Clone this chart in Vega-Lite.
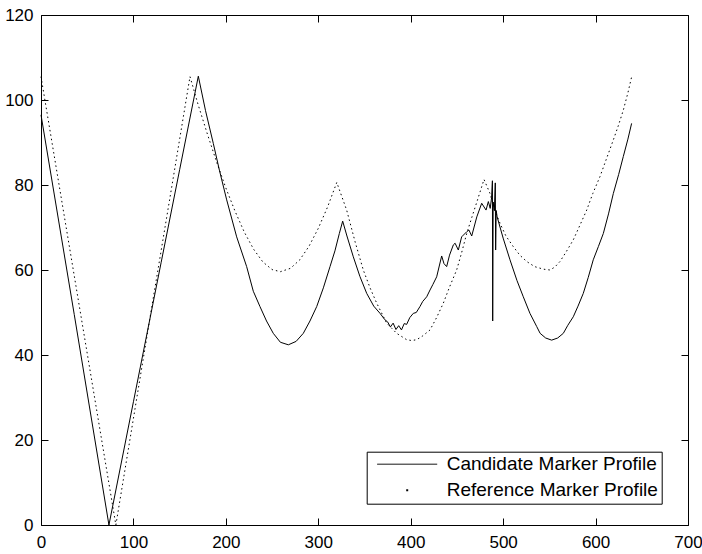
{
  "$schema": "https://vega.github.io/schema/vega-lite/v6.json",
  "width": 647,
  "height": 510,
  "autosize": {"type": "none"},
  "padding": {"left": 41, "top": 15, "right": 14, "bottom": 29},
  "background": "white",
  "config": {
    "view": {"stroke": null},
    "axis": {
      "domainColor": "black", "domainWidth": 1, "tickColor": "black", "tickWidth": 1, "tickSize": -7,
      "labelColor": "black", "labelFont": "Liberation Sans", "labelFontSize": 17,
      "grid": false, "title": null, "labelFlush": false, "labelOverlap": false
    }
  },
  "datasets": {
    "cand": [
      {"x":0,"y":96.5},{"x":36,"y":49.5},{"x":73.5,"y":0},{"x":100,"y":29},{"x":130,"y":61.8},{"x":150,"y":83.6},{"x":170.2,"y":105.6},
      {"x":178,"y":97.5},{"x":186.4,"y":89.8},{"x":193,"y":83.5},{"x":200.9,"y":76.5},{"x":211.7,"y":67.8},{"x":222.5,"y":60.8},{"x":229.7,"y":55},{"x":236.9,"y":51.4},{"x":244,"y":48},{"x":251.3,"y":45.1},
      {"x":259,"y":43},{"x":267.6,"y":42.4},{"x":276,"y":43.2},{"x":283.8,"y":45.1},{"x":291,"y":48},{"x":298.3,"y":51.4},{"x":305.5,"y":55.8},{"x":312.7,"y":60.8},{"x":318,"y":64.5},{"x":322.8,"y":68.6},
      {"x":326.4,"y":71.5},{"x":331,"y":68},{"x":337.9,"y":63.1},{"x":345,"y":58.5},{"x":352.4,"y":54.5},{"x":360,"y":51.5},{"x":366.8,"y":49.8},{"x":372,"y":48.3},{"x":375,"y":47.8},{"x":378,"y":46.6},
      {"x":381,"y":47.5},{"x":384,"y":46},{"x":387,"y":46.9},{"x":390,"y":45.9},{"x":393,"y":47.4},{"x":395.6,"y":47.2},{"x":399,"y":48.8},{"x":402.8,"y":49.8},{"x":406,"y":50},{"x":410,"y":51.4},
      {"x":413,"y":52.6},{"x":417.3,"y":53.7},{"x":420.9,"y":55.3},{"x":424,"y":56.6},{"x":428.1,"y":58.4},{"x":433.5,"y":63.3},{"x":436,"y":61.5},{"x":438.9,"y":60.8},{"x":442,"y":63.5},{"x":446.1,"y":65.9},
      {"x":448,"y":66.3},{"x":451.5,"y":64.7},{"x":455.1,"y":67.8},{"x":460.6,"y":69},{"x":463,"y":69.4},{"x":466,"y":68},{"x":471.5,"y":72.5},{"x":476.8,"y":75.7},{"x":481.5,"y":74.1},{"x":484,"y":76.1},
      {"x":486,"y":74.5},{"x":487.5,"y":77},{"x":488.4,"y":81},{"x":488.7,"y":48},{"x":489.2,"y":76},{"x":490.5,"y":74},{"x":491.5,"y":80.5},{"x":491.9,"y":64.7},{"x":492.5,"y":74},{"x":493.5,"y":72.5},
      {"x":500,"y":67.5},{"x":507.4,"y":62.4},{"x":515,"y":57.5},{"x":521.8,"y":53.7},{"x":529,"y":49.8},{"x":536.3,"y":46.7},{"x":540,"y":45.1},{"x":546,"y":44},{"x":552.5,"y":43.5},{"x":559,"y":44},
      {"x":565.1,"y":45.1},{"x":570,"y":47},{"x":575.9,"y":49},{"x":581,"y":51.5},{"x":586.7,"y":54.5},{"x":592,"y":58.2},{"x":597.5,"y":62.4},{"x":603,"y":65.5},{"x":608.4,"y":68.6},{"x":614,"y":73.2},
      {"x":619.2,"y":78},{"x":625,"y":82.5},{"x":630,"y":86.7},{"x":635,"y":90.8},{"x":639,"y":94.5}
    ],
    "ref": [
      {"x":0,"y":105.5},{"x":40,"y":53.4},{"x":81,"y":0},{"x":120,"y":51.5},{"x":145,"y":84.2},{"x":161.2,"y":105.5},{"x":170,"y":98.9},{"x":180,"y":92},{"x":190,"y":85.4},{"x":200,"y":79.3},
      {"x":210,"y":73.8},{"x":220,"y":68.9},{"x":230,"y":64.9},{"x":240,"y":61.9},{"x":250,"y":60.1},{"x":259,"y":59.6},{"x":270,"y":60.4},{"x":280,"y":62.4},{"x":290,"y":65.6},{"x":300,"y":69.8},
      {"x":310,"y":74.8},{"x":320,"y":80.6},{"x":330.7,"y":74.1},{"x":340,"y":66.5},{"x":348.7,"y":60},{"x":356,"y":55.8},{"x":363.2,"y":52.2},{"x":374,"y":47.5},{"x":384.8,"y":45.1},{"x":395.6,"y":43.6},
      {"x":401,"y":43.4},{"x":406.5,"y":43.6},{"x":413,"y":44.5},{"x":420.9,"y":45.9},{"x":428,"y":48.8},{"x":435.3,"y":52.2},{"x":442,"y":56},{"x":449.7,"y":60},{"x":455,"y":64},{"x":460.6,"y":68.6},
      {"x":466,"y":72.3},{"x":472,"y":76.3},{"x":479.3,"y":81.3},{"x":485.8,"y":78},{"x":491,"y":74},{"x":496.6,"y":71},{"x":503,"y":68},{"x":511,"y":65.5},{"x":518,"y":63.5},{"x":525.5,"y":62},
      {"x":534,"y":60.8},{"x":543.4,"y":60.2},{"x":550.7,"y":60},{"x":556,"y":60.7},{"x":561.5,"y":62},{"x":568,"y":64.2},{"x":575.9,"y":67.1},{"x":583,"y":70.5},{"x":590.4,"y":74.1},{"x":597,"y":78},
      {"x":604.8,"y":82},{"x":612,"y":86.3},{"x":619.2,"y":90.6},{"x":625,"y":94.2},{"x":630,"y":97.6},{"x":635,"y":101.7},{"x":639.5,"y":105.9}
    ]
  },
  "layer": [
    {
      "data": {"name": "cand"},
      "mark": {"type": "line", "strokeWidth": 1, "interpolate": "linear"},
      "encoding": {
        "x": {"field": "x", "type": "quantitative", "scale": {"domain": [0, 700], "nice": false, "zero": false},
              "axis": {"orient": "bottom", "values": [0, 100, 200, 300, 400, 500, 600, 700], "tickSize": -7, "labelPadding": 16}},
        "y": {"field": "y", "type": "quantitative", "scale": {"domain": [0, 120], "nice": false},
              "axis": {"orient": "left", "values": [0, 20, 40, 60, 80, 100, 120], "tickSize": -7, "labelPadding": 15}},
        "color": {
          "datum": "Candidate Marker Profile",
          "type": "nominal",
          "scale": {"domain": ["Candidate Marker Profile", "Reference Marker Profile"], "range": ["black", "black"]},
          "legend": {
            "orient": "none", "legendX": 325.7, "legendY": 436.7,
            "title": null, "strokeColor": "black", "fillColor": "white", "padding": 3, "cornerRadius": 0,
            "symbolType": "M-6,0H6", "symbolSize": 100, "symbolStrokeWidth": 1, "symbolStrokeColor": "black",
            "symbolOffset": 28, "labelOffset": 30, "rowPadding": 6, "labelLimit": 0,
            "labelFont": "Liberation Sans", "labelFontSize": 19, "labelColor": "black",
            "encode": {
              "symbols": {
                "update": {
                  "strokeDash": {"signal": "datum.value === 'Reference Marker Profile' ? [0, 29, 2, 100] : [1, 0]"},
                  "strokeWidth": {"signal": "datum.value === 'Reference Marker Profile' ? 2 : 1"}
                }
              }
            }
          }
        }
      }
    },
    {
      "data": {"name": "ref"},
      "mark": {"type": "line", "strokeWidth": 1, "strokeDash": [1.5, 3], "interpolate": "linear"},
      "encoding": {
        "x": {"field": "x", "type": "quantitative",
              "axis": {"orient": "top", "labels": false, "tickSize": -7, "values": [0, 100, 200, 300, 400, 500, 600, 700]}},
        "y": {"field": "y", "type": "quantitative",
              "axis": {"orient": "right", "labels": false, "tickSize": -7, "values": [0, 20, 40, 60, 80, 100, 120]}},
        "color": {"datum": "Reference Marker Profile", "type": "nominal"}
      }
    }
  ],
  "resolve": {"axis": {"x": "independent", "y": "independent"}}
}
